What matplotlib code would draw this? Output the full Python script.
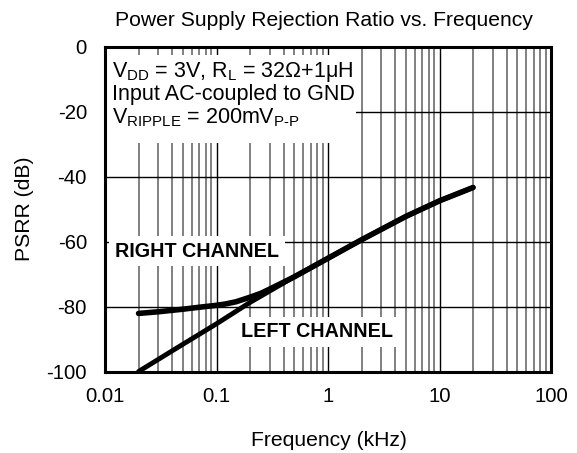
import matplotlib
matplotlib.use("Agg")
import matplotlib.pyplot as plt
from matplotlib.patches import Rectangle
from matplotlib.ticker import LogLocator, FixedLocator, NullFormatter

plt.rcParams['font.family'] = ['Liberation Sans', 'DejaVu Sans']
plt.rcParams['mathtext.fontset'] = 'custom'
plt.rcParams['mathtext.rm'] = 'Liberation Sans'
plt.rcParams['mathtext.it'] = 'Liberation Sans:italic'
plt.rcParams['mathtext.bf'] = 'Liberation Sans:bold'

# ---- data (kHz, dB) ----
left_freq = [0.02, 0.05, 0.1, 0.2, 0.3, 0.5, 1, 2, 5, 10, 20]
left_psrr = [-100, -91.6, -85.3, -78.7, -75.2, -70.8, -65.1, -59.4, -52.2, -47.4, -43.3]

right_freq = [0.02, 0.03, 0.05, 0.07, 0.1, 0.12, 0.15, 0.2, 0.25, 0.3, 0.5, 1, 2, 5, 10, 20]
right_psrr = [-82.1, -81.6, -80.8, -80.2, -79.6, -79.2, -78.5, -77.1, -75.9, -74.6, -70.8,
              -65.1, -59.4, -52.2, -47.4, -43.3]

x_ticks = [0.01, 0.1, 1, 10, 100]
x_tick_labels = ['0.01', '0.1', '1', '10', '100']
y_ticks = [0, -20, -40, -60, -80, -100]
y_tick_labels = ['0', '-20', '-40', '-60', '-80', '-100']

title = 'Power Supply Rejection Ratio vs. Frequency'
xlabel = 'Frequency (kHz)'
ylabel = 'PSRR (dB)'
cond_lines = [r'V$_\mathrm{DD}$ = 3V, R$_\mathrm{L}$ = 32Ω+1μH',
              'Input AC-coupled to GND',
              r'V$_\mathrm{RIPPLE}$ = 200mV$_\mathrm{P\text{-}P}$']

fig = plt.figure(figsize=(5.77, 4.53), dpi=100)
ax = fig.add_axes([105/577, 1-371.5/453, 446/577, 324.5/453])

ax.set_xscale('log')
ax.set_xlim(0.01, 100)
ax.set_ylim(-100, 0)
ax.xaxis.set_major_locator(FixedLocator(x_ticks))
ax.set_xticklabels(x_tick_labels)
ax.xaxis.set_minor_locator(LogLocator(base=10, subs=range(2, 10)))
ax.xaxis.set_minor_formatter(NullFormatter())
ax.set_yticks(y_ticks)
ax.set_yticklabels(y_tick_labels)

ax.set_axisbelow(True)
ax.grid(True, which='major', axis='both', color='black', lw=1.0)
ax.grid(True, which='minor', axis='x', color='#808080', lw=1.4)
ax.tick_params(which='both', length=0, labelsize=14.7)
ax.tick_params(axis='x', pad=11)
ax.tick_params(axis='y', pad=13)
for s in ax.spines.values():
    s.set_linewidth(2.2)
    s.set_zorder(6)

# condition box
ax.add_patch(Rectangle((0, 0.704), 0.563, 0.271, transform=ax.transAxes,
                       facecolor='white', edgecolor='none', zorder=2))
for txt, yb in zip(cond_lines, [0.9075, 0.8367, 0.7658]):
    ax.text(0.016, yb, txt, transform=ax.transAxes, fontsize=15.5,
            va='baseline', ha='left', zorder=3)

bb = dict(facecolor='white', edgecolor='none', pad=4)
ax.text(0.0224, 0.354, 'RIGHT CHANNEL', transform=ax.transAxes, fontsize=14.2,
        fontweight='bold', va='baseline', ha='left', bbox=bb, zorder=3)
ax.text(0.304, 0.1054, 'LEFT CHANNEL', transform=ax.transAxes, fontsize=14.2,
        fontweight='bold', va='baseline', ha='left', bbox=bb, zorder=3)

ax.plot(left_freq, left_psrr, color='black', lw=3.5, solid_capstyle='round',
        solid_joinstyle='round', zorder=4)
ax.plot(right_freq, right_psrr, color='black', lw=4.0, solid_capstyle='round',
        solid_joinstyle='round', zorder=4)

fig.text(324/577, 1-20/453, title, fontsize=15.2, ha='center', va='center')
fig.text(329/577, 1-441/453, xlabel, fontsize=15.2, ha='center', va='center')
fig.text(25/577, 1-209/453, ylabel, fontsize=15.2, ha='center', va='center', rotation=90)

fig.savefig('out.png', dpi=100)
